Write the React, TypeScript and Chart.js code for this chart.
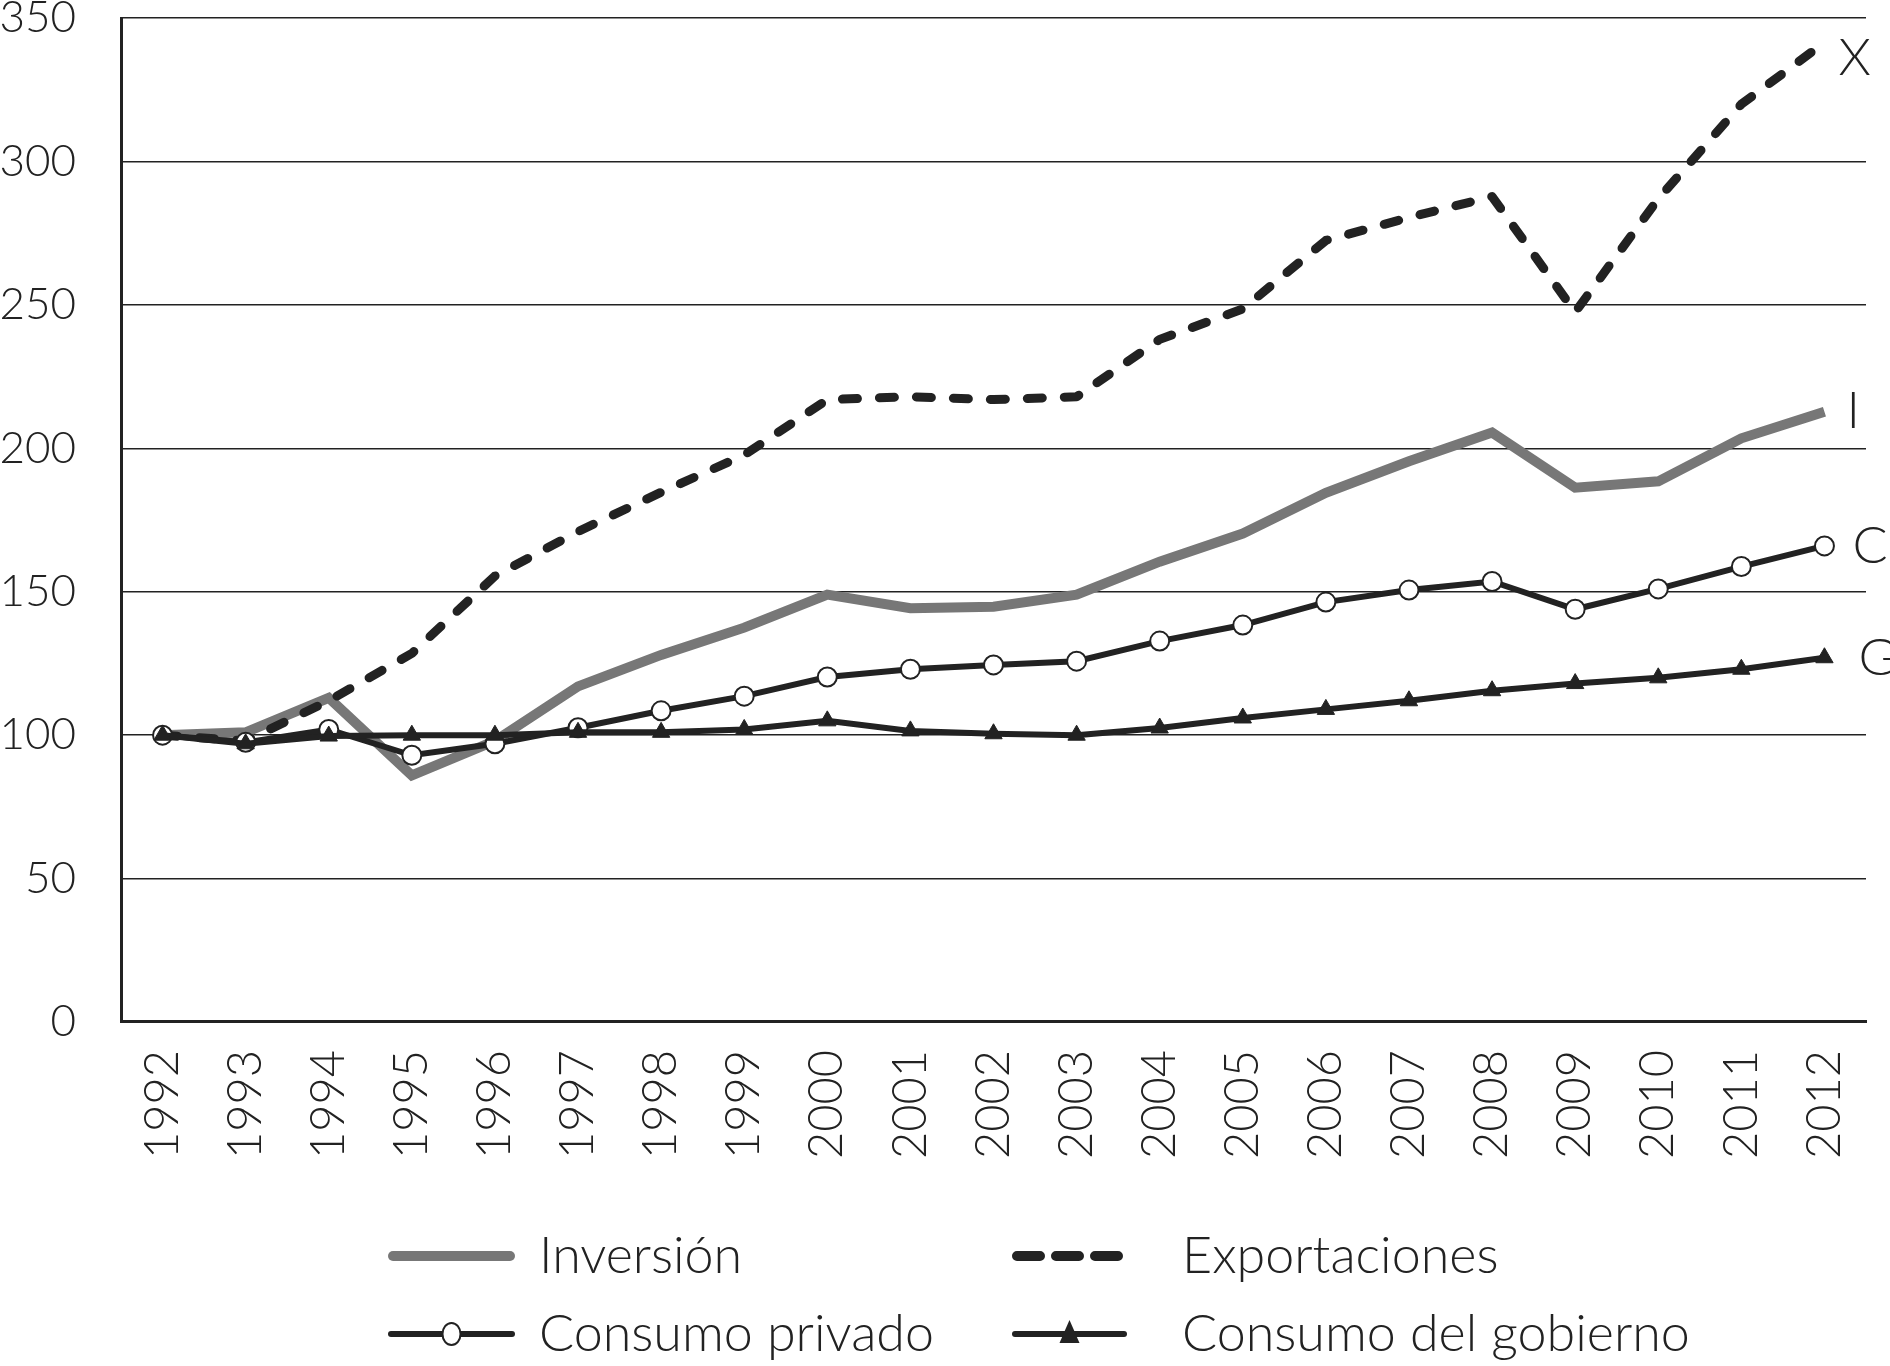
import { useEffect, useRef } from "react";
import { Chart, registerables } from "chart.js";

Chart.register(...registerables);

// Índices 1992 = 100
const years = [
    "1992", "1993", "1994", "1995", "1996", "1997", "1998", "1999", "2000", "2001", "2002",
    "2003", "2004", "2005", "2006", "2007", "2008", "2009", "2010", "2011", "2012",
];
const inversion = [100, 101, 113, 86, 98, 117, 128, 137.5, 149, 144.3, 144.8, 149, 160.5, 170.3, 184.5, 195.5, 205.5, 186.3, 188.5, 203.5, 212.8];
const exportaciones = [100, 98, 112, 128.5, 155.5, 171, 184.7, 197.7, 217, 218, 217, 218, 238, 248.6, 272.5, 280.5, 287.8, 247.5, 287, 320, 341.5];
const consumoPrivado = [100, 97.5, 102, 93, 97, 102.6, 108.5, 113.6, 120.3, 123, 124.5, 125.8, 132.8, 138.4, 146.4, 150.6, 153.6, 143.9, 151, 158.8, 166];
const consumoGobierno = [100, 97, 99.7, 100, 100, 101, 101, 102, 105, 101.5, 100.5, 100, 102.5, 106, 109, 112, 115.5, 118, 120, 123, 127];

const seriesNames = ["Inversión", "Exportaciones", "Consumo privado", "Consumo del gobierno"];
const endLabels = ["I", "X", "C", "G"];

const INK = "#222222";
const GREY = "#777777";
const FONT = "Lato";

// etiquetas al final de cada línea
const endLabelPlugin = {
    id: "endLabels",
    afterDatasetsDraw(chart: any) {
        const { ctx } = chart;
        const offsets = [[22, 0], [14, 16], [28, 0], [34, 0]];
        ctx.save();
        ctx.font = `300 52px ${FONT}`;
        ctx.fillStyle = INK;
        ctx.textAlign = "left";
        ctx.textBaseline = "middle";
        chart.data.datasets.forEach((ds: any, i: number) => {
            const meta = chart.getDatasetMeta(i);
            const pt = meta.data[meta.data.length - 1];
            ctx.fillText(endLabels[i], pt.x + offsets[i][0], pt.y + offsets[i][1]);
        });
        ctx.restore();
    },
};

// leyenda dibujada a mano (dos columnas)
const legendPlugin = {
    id: "customLegend",
    afterDraw(chart: any) {
        const { ctx } = chart;
        const rows = [chart.height - 110, chart.height - 32];
        const cols = [
            { x0: 388, x1: 515, tx: 539 },
            { x0: 1012, x1: 1127, tx: 1182 },
        ];
        const items = [
            { col: 0, row: 0 },
            { col: 1, row: 0 },
            { col: 0, row: 1 },
            { col: 1, row: 1 },
        ];
        ctx.save();
        items.forEach((it, i) => {
            const c = cols[it.col];
            const y = rows[it.row];
            const mid = (c.x0 + c.x1) / 2;
            ctx.beginPath();
            ctx.setLineDash([]);
            if (i === 0) {
                ctx.strokeStyle = GREY;
                ctx.lineWidth = 10;
                ctx.lineCap = "round";
                ctx.moveTo(c.x0 + 5, y);
                ctx.lineTo(c.x1 - 5, y);
                ctx.stroke();
            } else if (i === 1) {
                ctx.strokeStyle = INK;
                ctx.lineWidth = 10;
                ctx.lineCap = "round";
                ctx.setLineDash([23, 16]);
                ctx.moveTo(c.x0 + 5, y);
                ctx.lineTo(c.x1 - 5, y);
                ctx.stroke();
                ctx.setLineDash([]);
            } else if (i === 2) {
                ctx.strokeStyle = INK;
                ctx.lineWidth = 6;
                ctx.lineCap = "round";
                ctx.moveTo(c.x0 + 3, y);
                ctx.lineTo(c.x1 - 3, y);
                ctx.stroke();
                ctx.beginPath();
                ctx.fillStyle = "#ffffff";
                ctx.lineWidth = 2;
                ctx.ellipse(mid, y, 9, 11, 0, 0, Math.PI * 2);
                ctx.fill();
                ctx.stroke();
            } else {
                ctx.strokeStyle = INK;
                ctx.lineWidth = 6;
                ctx.lineCap = "round";
                ctx.moveTo(c.x0 + 3, y);
                ctx.lineTo(c.x1 - 3, y);
                ctx.stroke();
                ctx.beginPath();
                ctx.fillStyle = INK;
                ctx.moveTo(mid, y - 14);
                ctx.lineTo(mid + 10, y + 9);
                ctx.lineTo(mid - 10, y + 9);
                ctx.closePath();
                ctx.fill();
            }
            ctx.font = `300 52px ${FONT}`;
            ctx.fillStyle = INK;
            ctx.textAlign = "left";
            ctx.textBaseline = "middle";
            ctx.fillText(seriesNames[i], c.tx, y);
        });
        ctx.restore();
    },
};

export default function App() {
    const canvasRef = useRef<HTMLCanvasElement | null>(null);
    const chartRef = useRef<Chart | null>(null);

    useEffect(() => {
        if (!canvasRef.current) return;
        if (chartRef.current) chartRef.current.destroy();

        chartRef.current = new Chart(canvasRef.current, {
            type: "line",
            data: {
                labels: years,
                datasets: [
                    {
                        label: seriesNames[0],
                        data: inversion,
                        borderColor: GREY,
                        borderWidth: 10,
                        pointRadius: 0,
                        tension: 0,
                        order: 4,
                    },
                    {
                        label: seriesNames[1],
                        data: exportaciones,
                        borderColor: INK,
                        borderWidth: 9,
                        borderDash: [15, 22],
                        borderCapStyle: "round",
                        borderJoinStyle: "round",
                        pointRadius: 0,
                        tension: 0,
                        order: 3,
                    },
                    {
                        label: seriesNames[2],
                        data: consumoPrivado,
                        borderColor: INK,
                        borderWidth: 6,
                        pointStyle: "circle",
                        pointRadius: 9.5,
                        pointBackgroundColor: "#ffffff",
                        pointBorderColor: INK,
                        pointBorderWidth: 2,
                        tension: 0,
                        order: 2,
                    },
                    {
                        label: seriesNames[3],
                        data: consumoGobierno,
                        borderColor: INK,
                        borderWidth: 6,
                        pointStyle: "triangle",
                        pointRadius: 10,
                        pointBackgroundColor: INK,
                        pointBorderColor: INK,
                        pointBorderWidth: 1,
                        tension: 0,
                        order: 1,
                    },
                ],
            },
            options: {
                responsive: true,
                maintainAspectRatio: false,
                animation: false,
                layout: { padding: { top: 0, right: 24, bottom: 0, left: 0 } },
                plugins: {
                    legend: { display: false },
                    tooltip: { enabled: false },
                },
                scales: {
                    x: {
                        offset: true,
                        grid: {
                            display: true,
                            color: "rgba(0,0,0,0)",
                            drawTicks: true,
                            tickLength: 27,
                            tickColor: "rgba(0,0,0,0)",
                        },
                        border: { display: true, color: INK, width: 3 },
                        ticks: {
                            autoSkip: false,
                            minRotation: 90,
                            maxRotation: 90,
                            padding: 1,
                            color: INK,
                            font: { family: FONT, size: 47, weight: "300", lineHeight: 0.8 },
                        },
                        afterFit: (s: any) => {
                            s.height = 344;
                        },
                    },
                    y: {
                        min: 0,
                        max: 350,
                        ticks: {
                            stepSize: 50,
                            padding: 1,
                            color: INK,
                            font: { family: FONT, size: 44, weight: "300", lineHeight: 0.78 },
                        },
                        grid: {
                            color: INK,
                            lineWidth: 1.5,
                            drawTicks: true,
                            tickLength: 44,
                            tickColor: "rgba(0,0,0,0)",
                        },
                        border: { color: INK, width: 3 },
                        afterFit: (s: any) => {
                            s.width = 121;
                        },
                    },
                },
            },
            plugins: [endLabelPlugin, legendPlugin],
        } as any);

        return () => {
            if (chartRef.current) {
                chartRef.current.destroy();
                chartRef.current = null;
            }
        };
    }, []);

    return (
        <div style={{ position: "fixed", left: 0, top: 0, width: 1890, height: 1366, background: "#fff" }}>
            <canvas ref={canvasRef}></canvas>
        </div>
    );
}
